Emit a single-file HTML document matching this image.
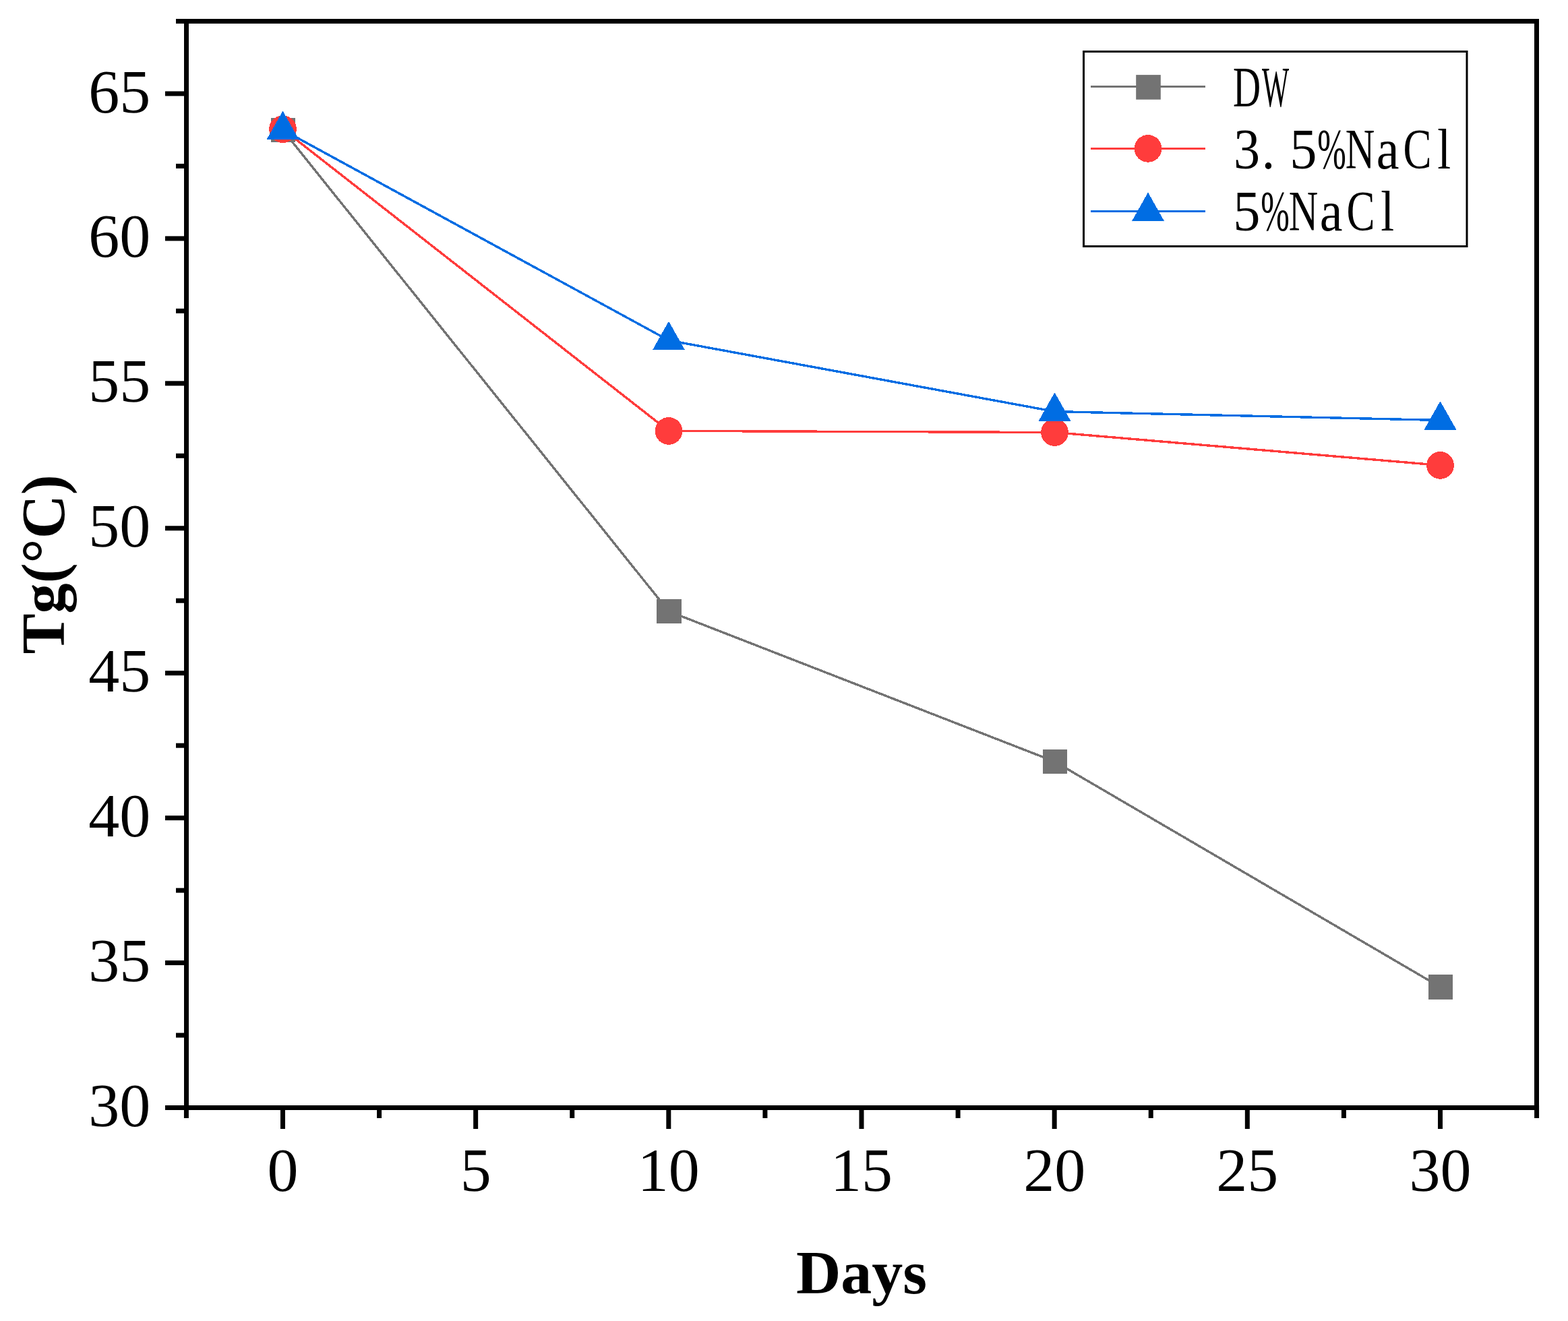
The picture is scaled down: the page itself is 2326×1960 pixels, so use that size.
<!DOCTYPE html>
<html><head><meta charset="utf-8"><title>Tg vs Days</title><style>
html,body{margin:0;padding:0;background:#fff;overflow:hidden;}
svg{display:block;}
.t{font-family:"Liberation Serif",serif;font-size:92px;fill:#000;}
.b{font-family:"Liberation Serif",serif;font-size:92px;font-weight:bold;fill:#000;}
.lg{font-family:"Liberation Serif","Noto Serif CJK SC",serif;font-size:84.5px;fill:#000;}
</style></head><body>
<svg width="2326" height="1960" viewBox="0 0 2326 1960">
<rect width="2326" height="1960" fill="#fff"/>
<g>
<polyline points="419.5,193 992,907 1564.5,1130 2136.5,1464.5" fill="none" stroke="#737373" stroke-width="3.4" stroke-linejoin="round" shape-rendering="crispEdges"/>
<g fill="#737373" shape-rendering="crispEdges"><rect x="401.70" y="174.70" width="36.6" height="36.6"/><rect x="974.20" y="888.70" width="36.6" height="36.6"/><rect x="1546.70" y="1111.70" width="36.6" height="36.6"/><rect x="2118.70" y="1446.20" width="36.6" height="36.6"/></g>
<polyline points="419.5,191.6 992,639.4 1564.5,641.5 2136.5,690.4" fill="none" stroke="#FF3C3C" stroke-width="3.4" stroke-linejoin="round" shape-rendering="crispEdges"/>
<g fill="#FF3C3C" shape-rendering="crispEdges"><circle cx="419.5" cy="191.6" r="20.35"/><circle cx="992" cy="639.4" r="20.35"/><circle cx="1564.5" cy="641.5" r="20.35"/><circle cx="2136.5" cy="690.4" r="20.35"/></g>
<polyline points="419.5,192.8 992,505 1564.5,610.6 2136.5,623.5" fill="none" stroke="#006DE3" stroke-width="3.4" stroke-linejoin="round" shape-rendering="crispEdges"/>
<g fill="#006DE3" stroke="#006DE3" stroke-width="1.2" stroke-linejoin="round" shape-rendering="crispEdges"><path d="M419.5,165.70 L442.50,206.50 L396.50,206.50 Z"/><path d="M992,477.90 L1015.00,518.70 L969.00,518.70 Z"/><path d="M1564.5,583.50 L1587.50,624.30 L1541.50,624.30 Z"/><path d="M2136.5,596.40 L2159.50,637.20 L2113.50,637.20 Z"/></g>
</g>
<g fill="#000">
<rect x="276.5" y="31.5" width="2003" height="1612" fill="none" stroke="#000" stroke-width="7"/>
<rect x="245" y="1640.00" width="32" height="7"/>
<rect x="245" y="1425.07" width="32" height="7"/>
<rect x="245" y="1210.13" width="32" height="7"/>
<rect x="245" y="995.19" width="32" height="7"/>
<rect x="245" y="780.26" width="32" height="7"/>
<rect x="245" y="565.33" width="32" height="7"/>
<rect x="245" y="350.39" width="32" height="7"/>
<rect x="245" y="135.45" width="32" height="7"/>
<rect x="261" y="1532.53" width="16" height="7"/>
<rect x="261" y="1317.60" width="16" height="7"/>
<rect x="261" y="1102.66" width="16" height="7"/>
<rect x="261" y="887.73" width="16" height="7"/>
<rect x="261" y="672.79" width="16" height="7"/>
<rect x="261" y="457.86" width="16" height="7"/>
<rect x="261" y="242.92" width="16" height="7"/>
<rect x="261" y="27.99" width="16" height="7"/>
<rect x="416.00" y="1640" width="7" height="35"/>
<rect x="702.16" y="1640" width="7" height="35"/>
<rect x="988.33" y="1640" width="7" height="35"/>
<rect x="1274.49" y="1640" width="7" height="35"/>
<rect x="1560.66" y="1640" width="7" height="35"/>
<rect x="1846.82" y="1640" width="7" height="35"/>
<rect x="2132.99" y="1640" width="7" height="35"/>
<rect x="272.92" y="1640" width="7" height="19"/>
<rect x="559.08" y="1640" width="7" height="19"/>
<rect x="845.25" y="1640" width="7" height="19"/>
<rect x="1131.41" y="1640" width="7" height="19"/>
<rect x="1417.58" y="1640" width="7" height="19"/>
<rect x="1703.74" y="1640" width="7" height="19"/>
<rect x="1989.91" y="1640" width="7" height="19"/>
<rect x="2276.07" y="1640" width="7" height="19"/>
</g>
<g class="t" text-anchor="end">
<text x="223.3" y="1671.0">30</text>
<text x="223.3" y="1456.1">35</text>
<text x="223.3" y="1241.1">40</text>
<text x="223.3" y="1026.2">45</text>
<text x="223.3" y="811.3">50</text>
<text x="223.3" y="596.3">55</text>
<text x="223.3" y="381.4">60</text>
<text x="223.3" y="166.5">65</text>
</g>
<g class="t" text-anchor="middle">
<text x="419.5" y="1767">0</text>
<text x="705.7" y="1767">5</text>
<text x="991.8" y="1767">10</text>
<text x="1278.0" y="1767">15</text>
<text x="1564.2" y="1767">20</text>
<text x="1850.3" y="1767">25</text>
<text x="2136.5" y="1767">30</text>
</g>
<text class="b" text-anchor="middle" x="1278" y="1918.7">Days</text>
<text class="b" text-anchor="middle" transform="translate(94.7,837.4) rotate(-90) scale(0.979,1)">Tg(°C)</text>
<g>
<rect x="1607.5" y="76.5" width="568.5" height="289" fill="none" stroke="#000" stroke-width="3"/>
<rect x="1618" y="127" width="170" height="3" fill="#737373"/>
<rect x="1685.20" y="111.10" width="36.6" height="36.6" fill="#737373"/>
<rect x="1618" y="219" width="170" height="3" fill="#FF3C3C"/>
<circle cx="1703" cy="220.4" r="20.35" fill="#FF3C3C" shape-rendering="crispEdges"/>
<rect x="1618" y="312" width="170" height="3" fill="#006DE3"/>
<g fill="#006DE3" stroke="#006DE3" stroke-width="1.2" stroke-linejoin="round" shape-rendering="crispEdges"><path d="M1703,286.70 L1726.00,327.50 L1680.00,327.50 Z"/></g>
<text class="lg" y="157.6"><tspan x="1829.06" textLength="41.12" lengthAdjust="spacingAndGlyphs">D</tspan><tspan x="1871.96" textLength="40.12" lengthAdjust="spacingAndGlyphs">W</tspan></text><text class="lg" y="249.8"><tspan x="1830.06" textLength="39.10" lengthAdjust="spacingAndGlyphs">3</tspan><tspan x="1871.56" textLength="19.89" lengthAdjust="spacingAndGlyphs">.</tspan><tspan x="1913.13" textLength="40.22" lengthAdjust="spacingAndGlyphs">5</tspan><tspan x="1954.15" textLength="42.60" lengthAdjust="spacingAndGlyphs">%</tspan><tspan x="1995.86" textLength="43.52" lengthAdjust="spacingAndGlyphs">N</tspan><tspan x="2041.69" textLength="33.75" lengthAdjust="spacingAndGlyphs">a</tspan><tspan x="2081.41" textLength="42.07" lengthAdjust="spacingAndGlyphs">C</tspan><tspan x="2132.32" textLength="19.96" lengthAdjust="spacingAndGlyphs">l</tspan></text><text class="lg" y="341.6"><tspan x="1829.13" textLength="40.22" lengthAdjust="spacingAndGlyphs">5</tspan><tspan x="1870.15" textLength="42.60" lengthAdjust="spacingAndGlyphs">%</tspan><tspan x="1911.86" textLength="43.52" lengthAdjust="spacingAndGlyphs">N</tspan><tspan x="1957.69" textLength="33.75" lengthAdjust="spacingAndGlyphs">a</tspan><tspan x="1997.41" textLength="42.07" lengthAdjust="spacingAndGlyphs">C</tspan><tspan x="2048.32" textLength="19.96" lengthAdjust="spacingAndGlyphs">l</tspan></text>
</g>
</svg>
</body></html>
